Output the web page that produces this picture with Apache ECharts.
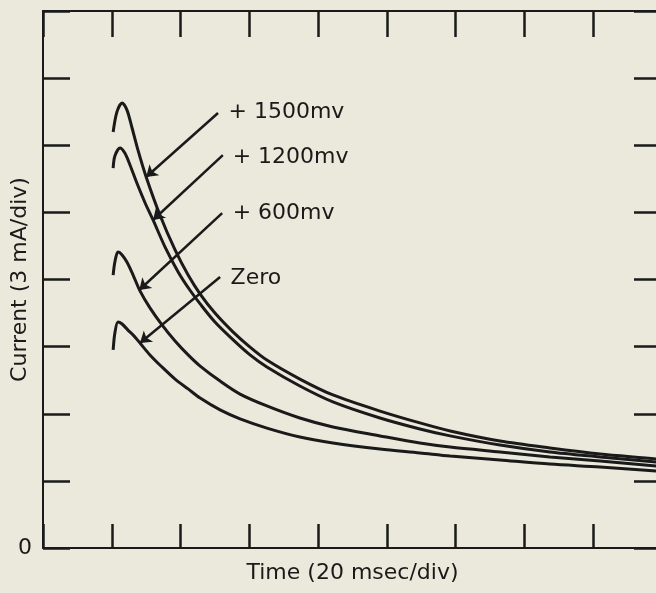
<!DOCTYPE html>
<html>
<head>
<meta charset="utf-8">
<script src="https://cdn.jsdelivr.net/npm/echarts@6/dist/echarts.min.js"></script>
<style>
  html, body { margin: 0; padding: 0; background: #ebe9dc; }
  #chart { width: 656px; height: 593px; }
</style>
</head>
<body>
<div id="chart"></div>
<script>
// time in msec, current in mA
var t1500 = [20.4, 21.5, 23.0, 24.4, 25.9, 27.6, 30.0, 34.0, 38.4, 42.2, 45.7, 50.0, 55.3, 60.2, 65.1, 74.7, 84.3, 98.0, 109.6, 118.4, 132.9, 147.4, 162.0, 178.3, 180];
var i1500 = [18.59, 19.49, 19.89, 19.58, 18.77, 17.79, 16.58, 14.88, 13.32, 12.20, 11.35, 10.50, 9.65, 8.98, 8.40, 7.55, 6.84, 6.12, 5.59, 5.23, 4.78, 4.47, 4.20, 3.98, 3.93];

var t1200 = [20.4, 20.9, 22.4, 23.8, 25.3, 27.3, 29.7, 32.0, 35.5, 39.3, 42.7, 45.7, 50.0, 55.3, 60.2, 65.1, 74.7, 84.3, 98.0, 109.6, 118.4, 132.9, 147.4, 162.0, 178.3, 180];
var i1200 = [16.98, 17.52, 17.88, 17.65, 17.12, 16.31, 15.42, 14.66, 13.45, 12.34, 11.53, 10.91, 10.10, 9.30, 8.63, 8.09, 7.24, 6.53, 5.81, 5.32, 5.01, 4.60, 4.29, 4.07, 3.84, 3.80];

var t600 = [20.4, 20.9, 21.8, 23.0, 24.4, 26.2, 28.2, 31.1, 34.6, 38.4, 42.2, 45.7, 51.5, 57.3, 65.1, 74.7, 84.3, 98.0, 109.6, 118.4, 132.9, 147.4, 162.0, 178.3, 180];
var i600 = [12.20, 12.78, 13.23, 13.10, 12.78, 12.20, 11.49, 10.73, 9.97, 9.25, 8.63, 8.13, 7.46, 6.88, 6.35, 5.81, 5.41, 5.01, 4.69, 4.51, 4.29, 4.07, 3.89, 3.66, 3.65];

var tZero = [20.4, 20.9, 21.8, 23.0, 24.7, 26.5, 28.2, 31.1, 34.6, 38.4, 42.2, 45.7, 51.5, 57.3, 65.1, 74.7, 84.3, 98.0, 109.6, 118.4, 132.9, 147.4, 162.0, 178.3, 180];
var iZero = [8.85, 9.61, 10.10, 10.01, 9.74, 9.47, 9.16, 8.63, 8.09, 7.55, 7.11, 6.70, 6.17, 5.77, 5.36, 4.96, 4.69, 4.42, 4.25, 4.11, 3.93, 3.75, 3.62, 3.44, 3.43];

var labels = ['+ 1500mv', '+ 1200mv', '+ 600mv', 'Zero'];
// label anchor, arrow start, arrow tip (data units)
var labelAt = [[53.8, 19.49], [55.0, 17.47], [55.0, 14.97], [54.4, 12.07]];
var arrowFrom = [[50.9, 19.44], [52.3, 17.56], [52.1, 14.97], [51.5, 12.11]];
var arrowTo = [[30.0, 16.58], [32.0, 14.66], [28.0, 11.53], [28.2, 9.16]];

var ink = '#1a1a1a';
var font = 'DejaVu Sans';

function zip(a, b) {
    return a.map(function (v, k) { return [v, b[k]]; });
}

var traces = [zip(t1500, i1500), zip(t1200, i1200), zip(t600, i600), zip(tZero, iZero)];

var chart = echarts.init(document.getElementById('chart'));

function xAx(pos, len, extra) {
    return Object.assign({
        type: 'value', position: pos, min: 0, max: 180, interval: 20,
        axisLine: { show: true, onZero: false, lineStyle: { color: ink, width: 2 } },
        axisTick: { show: true, inside: true, length: len, lineStyle: { color: ink, width: 2.5 } },
        axisLabel: { show: false },
        splitLine: { show: false }
    }, extra || {});
}
function yAx(pos, len, extra) {
    return Object.assign({
        type: 'value', position: pos, min: 0, max: 24, interval: 3,
        axisLine: { show: true, onZero: false, lineStyle: { color: ink, width: 2 } },
        axisTick: { show: true, inside: true, length: len, lineStyle: { color: ink, width: 2.5 } },
        axisLabel: { show: false },
        splitLine: { show: false }
    }, extra || {});
}

var option = {
    backgroundColor: '#ebe9dc',
    animation: false,
    grid: { left: 43, right: -6, top: 11, bottom: 45, outerBoundsMode: 'none', containLabel: false },
    xAxis: [
        xAx('bottom', 24, {
            name: 'Time (20 msec/div)', nameLocation: 'middle', nameGap: 14,
            nameTextStyle: { color: ink, fontSize: 22, fontFamily: font }
        }),
        xAx('top', 26)
    ],
    yAxis: [
        yAx('left', 27, {
            name: 'Current (3 mA/div)', nameLocation: 'middle', nameGap: 12,
            nameMoveOverlap: false,
            nameTextStyle: { color: ink, fontSize: 22, fontFamily: font },
            axisLabel: {
                show: true, margin: 11, color: ink, fontSize: 22, fontFamily: font,
                formatter: function (v) { return v === 0 ? '0' : ''; }
            }
        }),
        yAx('right', 28)
    ],
    series: traces.map(function (d, k) {
        return {
            name: labels[k],
            type: 'line',
            data: d,
            showSymbol: false,
            smooth: 0.3,
            lineStyle: { color: ink, width: 3 },
            markLine: {
                silent: true,
                symbol: ['none', 'arrow'],
                symbolSize: 11,
                lineStyle: { color: ink, width: 2.5, type: 'solid' },
                label: { show: false },
                data: [[{ coord: arrowFrom[k] }, { coord: arrowTo[k] }]]
            },
            markPoint: {
                silent: true,
                symbol: 'circle',
                symbolSize: 1,
                itemStyle: { color: 'rgba(0,0,0,0)' },
                label: {
                    show: true, position: 'right', distance: 0,
                    color: ink, fontSize: 22, fontFamily: font,
                    formatter: '{b}'
                },
                data: [{ name: labels[k], coord: labelAt[k] }]
            }
        };
    })
};

chart.setOption(option);
window.addEventListener('resize', chart.resize);
</script>
</body>
</html>
